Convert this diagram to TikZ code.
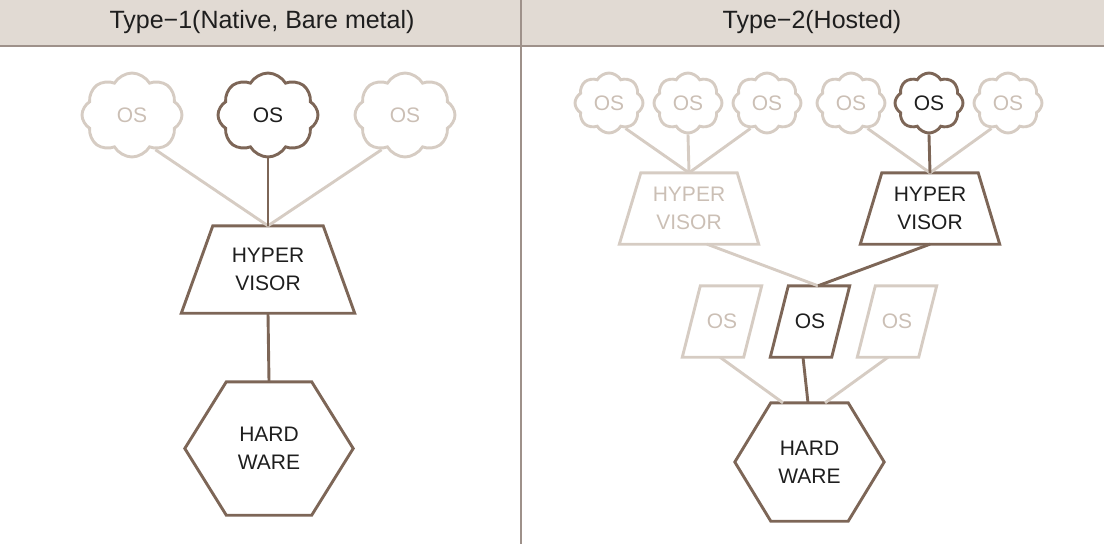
\documentclass[tikz,border=0pt]{standalone}
\usepackage{fontspec}
\setmainfont{Liberation Sans}
\usepackage{tikz}
\usetikzlibrary{shapes.symbols,calc}
\definecolor{HvBrown}{HTML}{7D6657}
\definecolor{HvSand}{HTML}{D6CCC3}
\definecolor{HvSandText}{HTML}{CBBFB5}
\definecolor{HvHead}{HTML}{E1DAD3}
\definecolor{HvRule}{HTML}{9E918A}
\definecolor{HvInk}{HTML}{1E1E1E}
\tikzset{
  box/.style={text=HvInk,inner sep=0pt,
    font=\fontsize{21}{28}\selectfont,align=center},
  faded/.style={text=HvSandText},
  oscloud/.style={box,draw=HvBrown,line width=2.9pt,cloud,cloud puffs=8,cloud puff arc=120,aspect=1.2},
  fadedcloud/.style={oscloud,faded,draw=HvSand},
  outline/.style={draw=HvBrown,line width=2.9pt},
  fadedoutline/.style={draw=HvSand,line width=2.9pt},
  link/.style={draw=HvBrown,line width=2.9pt},
  fadedlink/.style={draw=HvSand,line width=2.9pt},
  heading/.style={font=\fontsize{25}{28}\selectfont,text=HvInk}
}
\begin{document}
\begin{tikzpicture}[x=1pt,y=-1pt]
  \useasboundingbox (0,0) rectangle (1104,544);
  % header band
  \fill[HvHead] (0,0) rectangle (1104,46);
  \draw[HvRule,line width=2pt] (0,46) -- (1104,46);
  \draw[HvRule,line width=1.2pt] (521,0) -- (521,544);
  \node[heading] (titleA) at (262,22) {Type−1(Native, Bare metal)};
  \node[heading] (titleB) at (812,22) {Type−2(Hosted)};

  % type 1
  \node[fadedcloud,minimum width=100pt,minimum height=84pt] (osA) at (132,115) {OS};
  \node[oscloud,minimum width=100pt,minimum height=84pt] (osB) at (268,115) {OS};
  \node[fadedcloud,minimum width=100pt,minimum height=84pt] (osC) at (405,115) {OS};
  \node[box,minimum width=173pt,minimum height=87pt] (hv) at (268,269.5) {HYPER\\VISOR};
  \draw[outline] (hv.south west) -- (hv.south east) -- ($(hv.north east)+(-31.5,0)$)
    -- ($(hv.north west)+(31.5,0)$) -- cycle;
  \node[box,minimum width=168pt,minimum height=133pt] (hw) at (269,448.5) {HARD\\WARE};
  \draw[outline] (hw.west) -- ($(hw.north west)+(41.5,0)$) -- ($(hw.north east)+(-41.5,0)$)
    -- (hw.east) -- ($(hw.south east)+(-41.5,0)$) -- ($(hw.south west)+(41.5,0)$) -- cycle;
  \draw[fadedlink] (osA.-56) -- (hv.north);
  \draw[fadedlink] (osC.-124) -- (hv.north);
  \draw[link] (osB.south) -- (hv.north);
  \draw[link] (hv.south) -- (hw.north);

  % type 2
  \foreach \n/\x in {1/609,2/688,3/767,4/851,6/1008}
    \node[fadedcloud,minimum width=68pt,minimum height=60pt] (gos\n) at (\x,103) {OS};
  \node[oscloud,minimum width=68pt,minimum height=60pt] (gos5) at (929,103) {OS};
  \node[box,faded,minimum width=139pt,minimum height=71pt] (hvA) at (689,208.5) {HYPER\\VISOR};
  \node[box,minimum width=139pt,minimum height=71pt] (hvB) at (930,208.5) {HYPER\\VISOR};
  \draw[fadedoutline] (hvA.south west) -- (hvA.south east) -- ($(hvA.north east)+(-21.5,0)$)
    -- ($(hvA.north west)+(21.5,0)$) -- cycle;
  \draw[outline] (hvB.south west) -- (hvB.south east) -- ($(hvB.north east)+(-21.5,0)$)
    -- ($(hvB.north west)+(21.5,0)$) -- cycle;
  \node[box,faded,minimum width=61pt,minimum height=71pt] (hostA) at (722,321.5) {OS};
  \node[box,minimum width=61pt,minimum height=71pt] (hostB) at (810,321.5) {OS};
  \node[box,faded,minimum width=61pt,minimum height=71pt] (hostC) at (897,321.5) {OS};
  \foreach \h/\s in {hostA/fadedoutline,hostB/outline,hostC/fadedoutline}
    \draw[\s] ($(\h.south west)+(-9,0)$) -- ($(\h.south east)+(-9,0)$)
      -- ($(\h.north east)+(9,0)$) -- ($(\h.north west)+(9,0)$) -- cycle;
  \node[box,minimum width=149pt,minimum height=118pt] (hwB) at (809.5,462) {HARD\\WARE};
  \draw[outline] (hwB.west) -- ($(hwB.north west)+(36,0)$) -- ($(hwB.north east)+(-36,0)$)
    -- (hwB.east) -- ($(hwB.south east)+(-36,0)$) -- ($(hwB.south west)+(36,0)$) -- cycle;
  \draw[fadedlink] (gos1.-57) -- (hvA.north);
  \draw[fadedlink] (gos2.south) -- (hvA.north);
  \draw[fadedlink] (gos3.-123) -- (hvA.north);
  \draw[fadedlink] (gos4.-57) -- (hvB.north);
  \draw[fadedlink] (gos6.-123) -- (hvB.north);
  \draw[link] (gos5.south) -- (hvB.north);
  \draw[fadedlink] ($(hvA.south)+(18,0)$) -- ($(hostB.north)+(8,0)$);
  \draw[link] (hvB.south) -- ($(hostB.north)+(8,0)$);
  \draw[fadedlink] ($(hostA.south)+(-2,0)$) -- ($(hwB.north)+(-26.5,0)$);
  \draw[fadedlink] ($(hostC.south)+(-9,0)$) -- ($(hwB.north)+(15.5,0)$);
  \draw[link] ($(hostB.south)+(-7,0)$) -- ($(hwB.north)+(-1.5,0)$);
\end{tikzpicture}
\end{document}
